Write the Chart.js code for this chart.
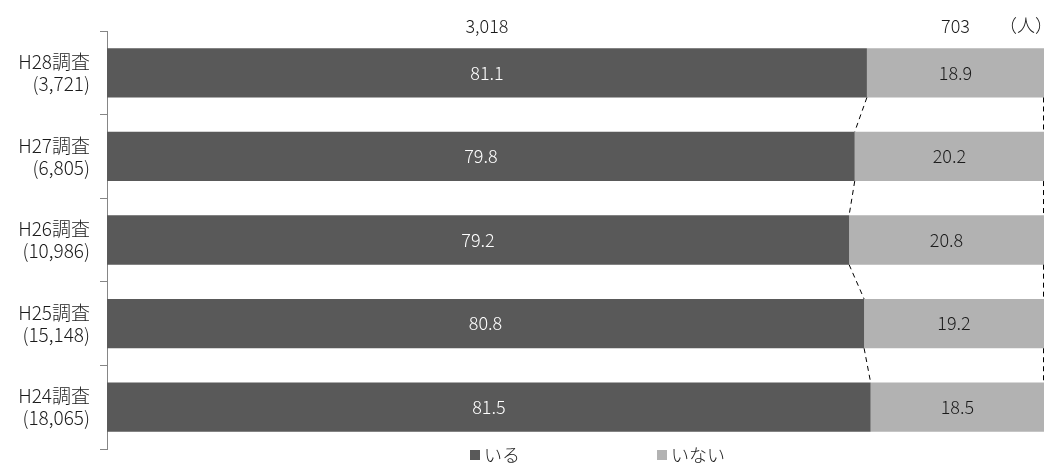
<!DOCTYPE html>
<html>
<head>
<meta charset="utf-8">
<script src="https://cdn.jsdelivr.net/npm/chart.js@4"></script>
<style>
  html, body { margin: 0; padding: 0; background: #fff; }
  #wrap { width: 1054px; height: 465px; }
</style>
</head>
<body>
<div id="wrap"><canvas id="chart"></canvas></div>
<script>
var surveys = ['H28調査', 'H27調査', 'H26調査', 'H25調査', 'H24調査'];
var sampleSizes = ['(3,721)', '(6,805)', '(10,986)', '(15,148)', '(18,065)'];
var iru = [81.1, 79.8, 79.2, 80.8, 81.5];
var inai = [18.9, 20.2, 20.8, 19.2, 18.5];
var topCounts = ['3,018', '703'];
var seriesNames = ['いる', 'いない'];

var FONT = '"Noto Sans CJK JP", "Noto Sans", sans-serif';
var DARK = '#595959';
var LIGHT = '#b2b2b2';

// 値ラベル・段差の破線・上部の人数・凡例
var extras = {
    id: 'extras',
    afterDatasetsDraw: function(chart) {
        var ctx = chart.ctx;
        var area = chart.chartArea;
        var m0 = chart.getDatasetMeta(0);
        var m1 = chart.getDatasetMeta(1);
        ctx.save();

        // 値ラベル
        ctx.font = '300 18px ' + FONT;
        ctx.textAlign = 'center';
        ctx.textBaseline = 'middle';
        m0.data.forEach(function(bar, i) {
            ctx.fillStyle = '#ffffff';
            ctx.fillText(iru[i].toFixed(1), (bar.base + bar.x) / 2, bar.y);
            var b2 = m1.data[i];
            ctx.fillStyle = '#1a1a1a';
            ctx.fillText(inai[i].toFixed(1), (b2.base + b2.x) / 2, b2.y);
        });

        // 区切り線(破線)
        ctx.strokeStyle = '#000000';
        ctx.lineWidth = 1;
        ctx.setLineDash([5, 4]);
        for (var i = 0; i < m0.data.length - 1; i++) {
            var a = m0.data[i], b = m0.data[i + 1];
            var aBottom = a.y + a.height / 2, bTop = b.y - b.height / 2;
            ctx.beginPath();
            ctx.moveTo(a.x, aBottom);
            ctx.lineTo(b.x, bTop);
            ctx.stroke();
            var r = m1.data[i].x;
            ctx.beginPath();
            ctx.moveTo(r - 0.5, aBottom);
            ctx.lineTo(r - 0.5, bTop);
            ctx.stroke();
        }
        ctx.setLineDash([]);

        // 上部の人数
        ctx.fillStyle = '#1a1a1a';
        var first = m0.data[0], second = m1.data[0];
        var ty = area.top - 5;
        ctx.fillText(topCounts[0], (first.base + first.x) / 2, ty);
        ctx.fillText(topCounts[1], (second.base + second.x) / 2, ty);
        ctx.textAlign = 'right';
        ctx.fillText('（人）', area.right + 9, ty - 1);

        // 凡例
        var ly = 455;
        var items = [[470, DARK, seriesNames[0]], [657, LIGHT, seriesNames[1]]];
        ctx.textAlign = 'left';
        items.forEach(function(it) {
            ctx.fillStyle = it[1];
            ctx.fillRect(it[0], ly - 5, 10, 10);
            ctx.fillStyle = '#1a1a1a';
            ctx.fillText(it[2], it[0] + 14, ly);
        });
        ctx.restore();
    }
};

new Chart(document.getElementById('chart').getContext('2d'), {
    type: 'bar',
    data: {
        labels: surveys.map(function(s, i) { return [s, sampleSizes[i]]; }),
        datasets: [{
            label: seriesNames[0],
            data: iru,
            backgroundColor: DARK,
            categoryPercentage: 1,
            barPercentage: 0.59
        }, {
            label: seriesNames[1],
            data: inai,
            backgroundColor: LIGHT,
            categoryPercentage: 1,
            barPercentage: 0.59
        }]
    },
    options: {
        indexAxis: 'y',
        responsive: true,
        maintainAspectRatio: false,
        animation: false,
        layout: {
            padding: { top: 31, right: 10, bottom: 16, left: 0 }
        },
        plugins: {
            legend: { display: false },
            tooltip: { enabled: false }
        },
        scales: {
            x: {
                stacked: true,
                min: 0,
                max: 100,
                display: false
            },
            y: {
                stacked: true,
                offset: true,
                afterFit: function(scale) {
                    // 軸位置を固定し、ラベル分の上下余白は取らない
                    scale.width = 107;
                    scale.paddingTop = 0;
                    scale.paddingBottom = 0;
                },
                border: { color: '#868686', width: 1 },
                grid: {
                    drawOnChartArea: false,
                    tickLength: 7,
                    color: '#868686'
                },
                ticks: {
                    color: '#1a1a1a',
                    padding: 10,
                    font: { family: FONT, size: 19, weight: '300', lineHeight: 1.15 }
                }
            }
        }
    },
    plugins: [extras]
});
</script>
</body>
</html>
